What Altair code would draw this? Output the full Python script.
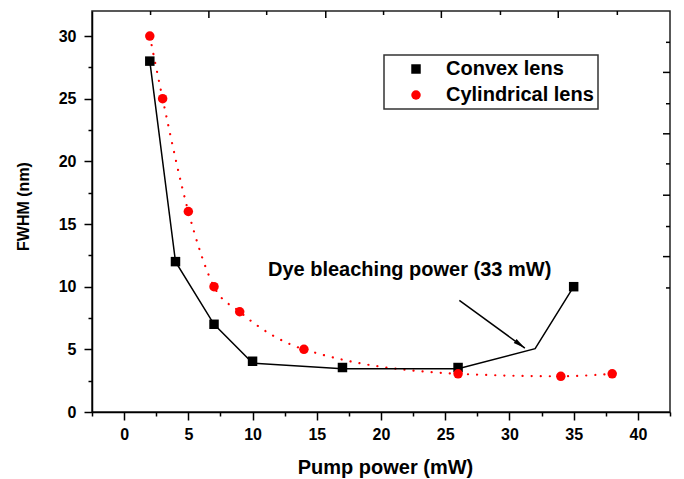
import altair as alt
import pandas as pd

# ---- data ----
series_names = ["Convex lens", "Cylindrical lens"]

convex_x = [2, 4, 7, 10, 17, 26, 35]
convex_y = [28, 12, 7, 4.05, 3.55, 3.55, 10]
# polyline drawn through the convex-lens points (with a kink at 32 mW)
convex_line_x = [2, 4, 7, 10, 17, 26, 32, 35]
convex_line_y = [28, 12, 7, 3.9, 3.45, 3.45, 5.05, 10]

cyl_x = [2, 3, 5, 7, 9, 14, 26, 34, 38]
cyl_y = [30, 25, 16, 10, 8, 5, 3.05, 2.85, 3.05]

x_major = [0, 5, 10, 15, 20, 25, 30, 35, 40]
x_minor = [-2.5, 2.5, 7.5, 12.5, 17.5, 22.5, 27.5, 32.5, 37.5, 42.5]
y_major = [0, 5, 10, 15, 20, 25, 30]
y_minor = [2.5, 7.5, 12.5, 17.5, 22.5, 27.5]

# small inward ticks on the top and right frame
top_long = [6.6, 15.7, 24.7, 33.8]
top_short = [2.06, 11.1, 20.2, 29.3, 38.4]
right_long = [27.1, 22.2, 17.3, 12.4]
right_short = [29.5, 24.6, 19.8, 14.8, 9.9]

annot_text = ["Dye bleaching power (33 mW)"]
annot_x = [11.2]
annot_y = [11.33]
arrow_x = [26.1]
arrow_y = [8.9]
arrow_x2 = [31.2]
arrow_y2 = [5.1]

FONT = "Liberation Sans"
W, H = 578, 401

# ---- tables ----
pts = pd.DataFrame({
    "x": convex_x + cyl_x,
    "y": convex_y + cyl_y,
    "series": [series_names[0]] * len(convex_x) + [series_names[1]] * len(cyl_x),
})
convex_line = pd.DataFrame({"x": convex_line_x, "y": convex_line_y})
cyl_line = pd.DataFrame({"x": cyl_x, "y": cyl_y})
annot = pd.DataFrame({"x": annot_x, "y": annot_y, "t": annot_text})
arrow = pd.DataFrame({"x": arrow_x, "y": arrow_y, "x2": arrow_x2, "y2": arrow_y2})
head = pd.DataFrame({"x": arrow_x2, "y": arrow_y2})

xs = alt.Scale(domain=[-2.5, 42.5], nice=False, zero=False)
ys = alt.Scale(domain=[0, 32], nice=False, zero=False)

x_axis = alt.Axis(
    values=sorted(x_major + x_minor),
    labelExpr="datum.value % 5 === 0 ? datum.label : ''",
    tickSize={"condition": {"test": "datum.value % 5 === 0", "value": 8}, "value": 4},
    labelPadding=6,
    title="Pump power (mW)",
    titleX=293, titleY=55, titleBaseline="middle", titleAlign="center",
    titleFontSize=20,
)
y_axis = alt.Axis(
    values=sorted(y_major + y_minor),
    labelExpr="datum.value % 5 === 0 ? datum.label : ''",
    tickSize={"condition": {"test": "datum.value % 5 === 0", "value": 8}, "value": 4},
    labelPadding=8,
    title="FWHM (nm)",
    titleX=-69, titleY=195, titleBaseline="middle", titleAlign="center",
    titleFontSize=16,
)

X = alt.X("x:Q", scale=xs, axis=x_axis)
Y = alt.Y("y:Q", scale=ys, axis=y_axis)

legend = alt.Legend(
    title=None, orient="none", legendX=292, legendY=44,
    padding=4, rowPadding=6, labelOffset=20, symbolOffset=18,
    fillColor="white", strokeColor="#333",
    labelFont=FONT, labelFontSize=20, labelFontWeight="bold", labelColor="black",
    symbolSize=90, symbolStrokeWidth=0,
)

convex_l = alt.Chart(convex_line).mark_line(color="black", strokeWidth=1.5).encode(x=X, y=Y)
cyl_l = alt.Chart(cyl_line).mark_line(
    color="#ff0000", strokeWidth=2.2, strokeDash=[0.1, 9], strokeCap="round",
    interpolate="monotone",
).encode(x=X, y=Y)

points = alt.Chart(pts).mark_point(filled=True, opacity=1, size=90).encode(
    x=X, y=Y,
    color=alt.Color("series:N", scale=alt.Scale(domain=series_names, range=["#000000", "#ff0000"]), legend=legend),
    shape=alt.Shape("series:N", scale=alt.Scale(domain=series_names, range=["square", "circle"]), legend=legend),
)

arrow_l = alt.Chart(arrow).mark_rule(color="black", strokeWidth=1.5).encode(
    x=X, y=Y, x2="x2:Q", y2="y2:Q"
)
arrow_h = alt.Chart(head).mark_point(
    shape="M0,0L0.4,2L-0.4,2Z", filled=True, color="black", opacity=1, size=144, angle=126
).encode(x=X, y=Y)

text = alt.Chart(annot).mark_text(
    align="left", baseline="middle", font=FONT, fontSize=20, fontWeight="bold", color="black"
).encode(x=X, y=Y, text="t:N")

top_l = alt.Chart(pd.DataFrame({"x": top_long})).mark_rule(color="black", strokeWidth=1.5).encode(
    x=X, y=alt.value(0), y2=alt.value(7))
top_s = alt.Chart(pd.DataFrame({"x": top_short})).mark_rule(color="black", strokeWidth=1.5).encode(
    x=X, y=alt.value(0), y2=alt.value(4))
right_l = alt.Chart(pd.DataFrame({"y": right_long})).mark_rule(color="black", strokeWidth=1.5).encode(
    y=Y, x=alt.value(W), x2=alt.value(W - 7))
right_s = alt.Chart(pd.DataFrame({"y": right_short})).mark_rule(color="black", strokeWidth=1.5).encode(
    y=Y, x=alt.value(W), x2=alt.value(W - 4))

chart = alt.layer(
    cyl_l, convex_l, arrow_l, arrow_h, text, points, top_l, top_s, right_l, right_s
).properties(
    width=W, height=H,
    autosize=alt.AutoSizeParams(type="none"),
    padding={"left": 84, "top": 3, "right": 6, "bottom": 67},
).configure_view(
    stroke="#222", strokeWidth=1.5
).configure_axis(
    grid=False, domainColor="black", domainWidth=1.5, tickColor="black", tickWidth=1.5,
    labelFont=FONT, labelFontSize=16, labelFontWeight="bold", labelColor="black",
    titleFont=FONT, titleFontWeight="bold", titleColor="black",
).configure_legend(
    strokeWidth=1.5
)

chart.save("out.html", embed_options={"renderer": "svg", "actions": False})
